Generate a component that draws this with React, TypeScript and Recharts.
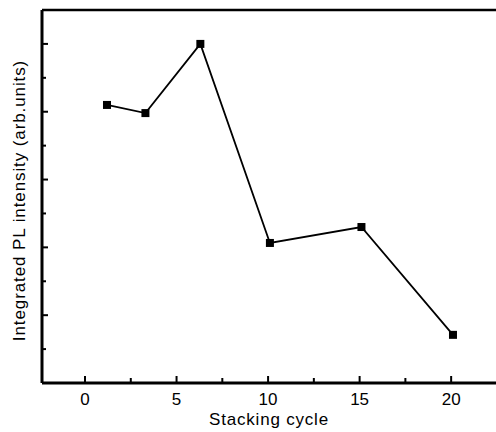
import { LineChart, Line, XAxis, YAxis, Label, ReferenceLine } from "recharts";

const cycles = [1.2, 3.3, 6.3, 10.1, 15.1, 20.1];
const intensity = [8.2, 7.96, 10.0, 4.13, 4.6, 1.42];
const xTicks = [0, 2.5, 5, 7.5, 10, 12.5, 15, 17.5, 20];
const yTicks = [1, 2, 3, 4, 5, 6, 7, 8, 9, 10];

const data = cycles.map((c, i) => ({ cycle: c, value: intensity[i] }));

const FONT = "'Liberation Sans', Arial, sans-serif";

const XTick = (props: any) => {
  const { x, y, payload } = props;
  const major = payload.value % 5 === 0;
  return (
    <g>
      <line x1={x} x2={x} y1={y} y2={y - (major ? 7 : 5)} stroke="#000" strokeWidth={2} />
      {major && (
        <text x={x} y={y + 22} textAnchor="middle" fontSize={17} fontFamily={FONT} fill="#000">
          {payload.value}
        </text>
      )}
    </g>
  );
};

const YTick = (props: any) => {
  const { x, y, payload } = props;
  const major = payload.value % 2 === 0;
  return <line x1={x} x2={x + (major ? 6 : 4)} y1={y} y2={y} stroke="#000" strokeWidth={2} />;
};

const SquareDot = (props: any) => {
  const { cx, cy } = props;
  if (cx == null || cy == null) return null;
  return <rect x={cx - 4} y={cy - 4} width={8} height={8} fill="#000" />;
};

const YLabel = (props: any) => {
  const { viewBox } = props;
  const cx = 21;
  const cy = viewBox.y + viewBox.height / 2 + 4;
  return (
    <text x={cx} y={cy} transform={`rotate(-90 ${cx} ${cy})`} textAnchor="middle" dominantBaseline="middle" fontSize={17} letterSpacing={0.9} fontFamily={FONT} fill="#000">
      Integrated PL intensity (arb.units)
    </text>
  );
};

export default function App() {
  return (
    <div style={{ position: "absolute", left: 0, top: 0, background: "#fff" }}>
      <LineChart width={496} height={432} data={data} margin={{ top: 10, right: 0, bottom: 0, left: 0 }}>
        <XAxis
          dataKey="cycle"
          type="number"
          domain={[-2.35, 22.45]}
          ticks={xTicks}
          interval={0}
          tickSize={0}
          tickMargin={0}
          tick={<XTick />}
          axisLine={{ stroke: "#000", strokeWidth: 3 }}
          height={49}
        >
          <Label value="Stacking cycle" position="insideBottom" offset={7} fontSize={17} letterSpacing={0.8} fontFamily={FONT} fill="#000" />
        </XAxis>
        <YAxis
          type="number"
          domain={[0, 11]}
          ticks={yTicks}
          interval={0}
          tickSize={0}
          tickMargin={0}
          tick={<YTick />}
          axisLine={{ stroke: "#000", strokeWidth: 3 }}
          width={42}
        >
          <Label content={<YLabel />} />
        </YAxis>
        <ReferenceLine y={11} stroke="#000" strokeWidth={2.5} ifOverflow="extendDomain" />
        <Line
          dataKey="value"
          stroke="#000"
          strokeWidth={1.8}
          dot={<SquareDot />}
          activeDot={false}
          isAnimationActive={false}
        />
      </LineChart>
    </div>
  );
}
